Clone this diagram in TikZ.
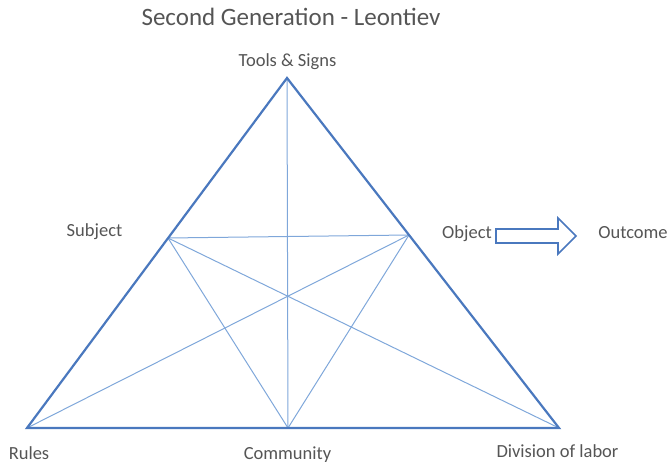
\documentclass[tikz,border=0pt]{standalone}
\usepackage{fontspec}
\setmainfont{Carlito}
\definecolor{outerblue}{HTML}{4A78BE}
\definecolor{innerblue}{HTML}{7FA7DA}
\definecolor{labelgrey}{HTML}{555555}
\tikzset{
  outerline/.style={draw=outerblue, line width=2.2pt, line join=miter},
  innerline/.style={draw=innerblue, line width=1pt},
  lbl/.style={text=labelgrey, font=\fontsize{18.5}{22}\selectfont, anchor=base, inner sep=0pt},
  ttl/.style={text=labelgrey, font=\fontsize{25}{30}\selectfont, anchor=base, inner sep=0pt},
  blockarrow/.style={draw=outerblue, line width=1.6pt, fill=white, line join=miter}
}
\begin{document}
\begin{tikzpicture}[x=1pt,y=-1pt]
\useasboundingbox (0,0) rectangle (670,465);
% corner points
\coordinate (T) at (287,78);
\coordinate (R) at (27,428);
\coordinate (D) at (559,428);
\coordinate (C) at (288,428);
\coordinate (S) at (168,238);
\coordinate (O) at (409,235);
% inner lines
\draw[innerline] (S) -- (O);
\draw[innerline] (T) -- (C);
\draw[innerline] (S) -- (C);
\draw[innerline] (O) -- (C);
\draw[innerline] (S) -- (D);
\draw[innerline] (O) -- (R);
% outer triangle
\draw[outerline] (T) -- (R) -- (D) -- cycle;
% labels
\node[ttl] (title) at (291,26) {Second Generation - Leontiev};
\node[lbl] (tools) at (287.5,67) {Tools \& Signs};
\node[lbl] (subject) at (94.5,237) {Subject};
\node[lbl] (object) at (467,239) {Object};
\node[lbl] (outcome) at (633,239) {Outcome};
\node[lbl] (rules) at (29,459) {Rules};
\node[lbl] (community) at (287.5,459.5) {Community};
\node[lbl] (division) at (557.5,457) {Division of labor};
% block arrow from Object to Outcome
\coordinate (a1) at (496,229);
\coordinate (a2) at (558,229);
\coordinate (a3) at (558,218);
\coordinate (a4) at (576,236);
\coordinate (a5) at (558,254);
\coordinate (a6) at (558,243);
\coordinate (a7) at (496,243);
\draw[blockarrow] (a1) -- (a2) -- (a3) -- (a4) -- (a5) -- (a6) -- (a7) -- cycle;
\end{tikzpicture}
\end{document}
